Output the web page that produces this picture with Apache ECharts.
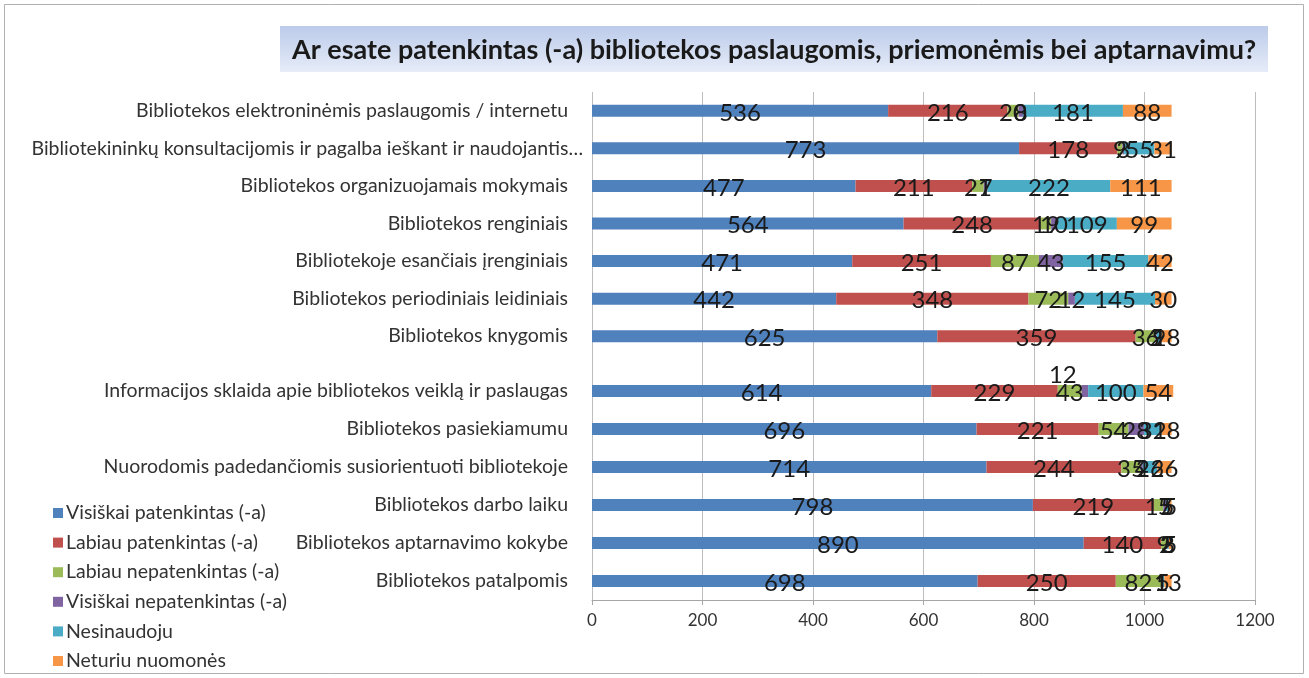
<!DOCTYPE html>
<html><head><meta charset="utf-8">
<script src="https://cdn.jsdelivr.net/npm/echarts@6/dist/echarts.min.js"></script>
<style>html,body{margin:0;padding:0;background:#fff}#c{width:1309px;height:678px}</style>
</head><body><div id="c"></div>
<script>
const categoriesTop = [
  "Bibliotekos elektroninėmis paslaugomis / internetu",
  "Bibliotekininkų konsultacijomis ir pagalba ieškant ir naudojantis…",
  "Bibliotekos organizuojamais mokymais",
  "Bibliotekos renginiais",
  "Bibliotekoje esančiais įrenginiais",
  "Bibliotekos periodiniais leidiniais",
  "Bibliotekos knygomis"
];
const categoriesBottom = [
  "Informacijos sklaida apie bibliotekos veiklą ir paslaugas",
  "Bibliotekos pasiekiamumu",
  "Nuorodomis padedančiomis susiorientuoti bibliotekoje",
  "Bibliotekos darbo laiku",
  "Bibliotekos aptarnavimo kokybe",
  "Bibliotekos patalpomis"
];
const seriesNames = ["Visiškai patenkintas (-a)","Labiau patenkintas (-a)","Labiau nepatenkintas (-a)","Visiškai nepatenkintas (-a)","Nesinaudoju","Neturiu nuomonės"];
const colors = ["#4F81BD","#C0504D","#9BBB59","#8064A2","#4BACC6","#F79646"];
// top group values (one array per series)
const visiskaiTop   = [536, 773, 477, 564, 471, 442, 625];
const labiauTop     = [216, 178, 211, 248, 251, 348, 359];
const labNepTop     = [20, 9, 21, 19, 87, 72, 36];
const visNepTop     = [8, 3, 7, 10, 43, 12, 2];
const nesinaudojuTop= [181, 55, 222, 109, 155, 145, 9];
const neturiuTop    = [88, 31, 111, 99, 42, 30, 18];
// bottom group values
const visiskaiBot   = [614, 696, 714, 798, 890, 698];
const labiauBot     = [229, 221, 244, 219, 140, 250];
const labNepBot     = [43, 54, 35, 17, 9, 82];
const visNepBot     = [12, 28, 4, 5, 2, 1];
const nesinaudojuBot= [100, 32, 26, 5, 3, 5];
const neturiuBot    = [54, 18, 26, 5, 5, 13];
const xTicks = [0, 200, 400, 600, 800, 1000, 1200];

const topSets = [visiskaiTop, labiauTop, labNepTop, visNepTop, nesinaudojuTop, neturiuTop];
const botSets = [visiskaiBot, labiauBot, labNepBot, visNepBot, nesinaudojuBot, neturiuBot];

const FONT = "Lato";
const lbl = {show:true, position:'inside', color:'#1a1a1a', fontSize:24, fontFamily:FONT, offset:[0,2]};

const series = [];
seriesNames.forEach((n,i)=>{
  series.push({name:n, type:'bar', stack:'a', xAxisIndex:1, yAxisIndex:1, barWidth:12,
    itemStyle:{color:colors[i]}, label:lbl, data:topSets[i]});
});
seriesNames.forEach((n,i)=>{
  let data = botSets[i].map((v,j)=>{
    if(i===3 && j===0) return {value:v, label:{position:'top', distance:2, offset:[-22,4]}};
    return v;
  });
  series.push({name:n, type:'bar', stack:'b', xAxisIndex:2, yAxisIndex:2, barWidth:12,
    itemStyle:{color:colors[i]}, label:lbl, data:data});
});

const catLabelStyle = {color:'#333', fontSize:19.5, fontFamily:FONT};
const topCatData = categoriesTop.map((c,i)=> i===1 ? {value:c, textStyle:{padding:[0,-15,0,0]}} : c);
const chart = echarts.init(document.getElementById('c'), null, {renderer:'canvas'});
chart.setOption({
  animation:false,
  graphic:[
    {type:'rect', shape:{x:4.5,y:4.5,width:1299,height:669}, style:{fill:'none', stroke:'#b0b0b0', lineWidth:1}, z:-10},
    {type:'rect', shape:{x:280,y:26,width:988,height:46},
     style:{fill:new echarts.graphic.LinearGradient(0,0,0,1,[{offset:0,color:'#bccbea'},{offset:1,color:'#e6ecf8'}])}, z:-5},
    {type:'text', x:774, y:50, style:{text:'Ar esate patenkintas (-a) bibliotekos paslaugomis, priemonėmis bei aptarnavimu?',
      fill:'#1a1a1a', font:'bold 27px Lato', textAlign:'center', textVerticalAlign:'middle'}}
  ],
  legend:{orient:'vertical', left:48, top:498, height:200, icon:'rect', itemWidth:10, itemHeight:10, itemGap:9.6,
    data:seriesNames, textStyle:{color:'#333', fontSize:19.5, fontFamily:FONT, lineHeight:20, padding:[0,0,0,-2]}},
  grid:[
    {left:592, right:54, top:92, bottom:78},
    {left:592, right:54, top:92, height:263},
    {left:592, right:54, top:372, bottom:78}
  ],
  xAxis:[
    {gridIndex:0, type:'value', min:0, max:1200, interval:200,
     axisLine:{show:true, lineStyle:{color:'#a6a6a6'}}, axisTick:{show:true, length:5, lineStyle:{color:'#a6a6a6'}},
     axisLabel:{margin:12, color:'#333', fontSize:17, fontFamily:FONT, formatter:v=>xTicks.includes(v)?String(v):''},
     splitLine:{show:true, lineStyle:{color:'#bdbdbd', width:1}}},
    {gridIndex:1, type:'value', min:0, max:1200, interval:200, show:false},
    {gridIndex:2, type:'value', min:0, max:1200, interval:200, show:false}
  ],
  yAxis:[
    {gridIndex:0, type:'value', min:0, max:1, show:false},
    {gridIndex:1, type:'category', inverse:true, data:topCatData,
     axisLine:{show:false}, axisTick:{show:false}, axisLabel:Object.assign({margin:24}, catLabelStyle)},
    {gridIndex:2, type:'category', inverse:true, data:categoriesBottom,
     axisLine:{show:false}, axisTick:{show:false}, axisLabel:Object.assign({margin:24}, catLabelStyle)}
  ],
  series:series
});
</script></body></html>
